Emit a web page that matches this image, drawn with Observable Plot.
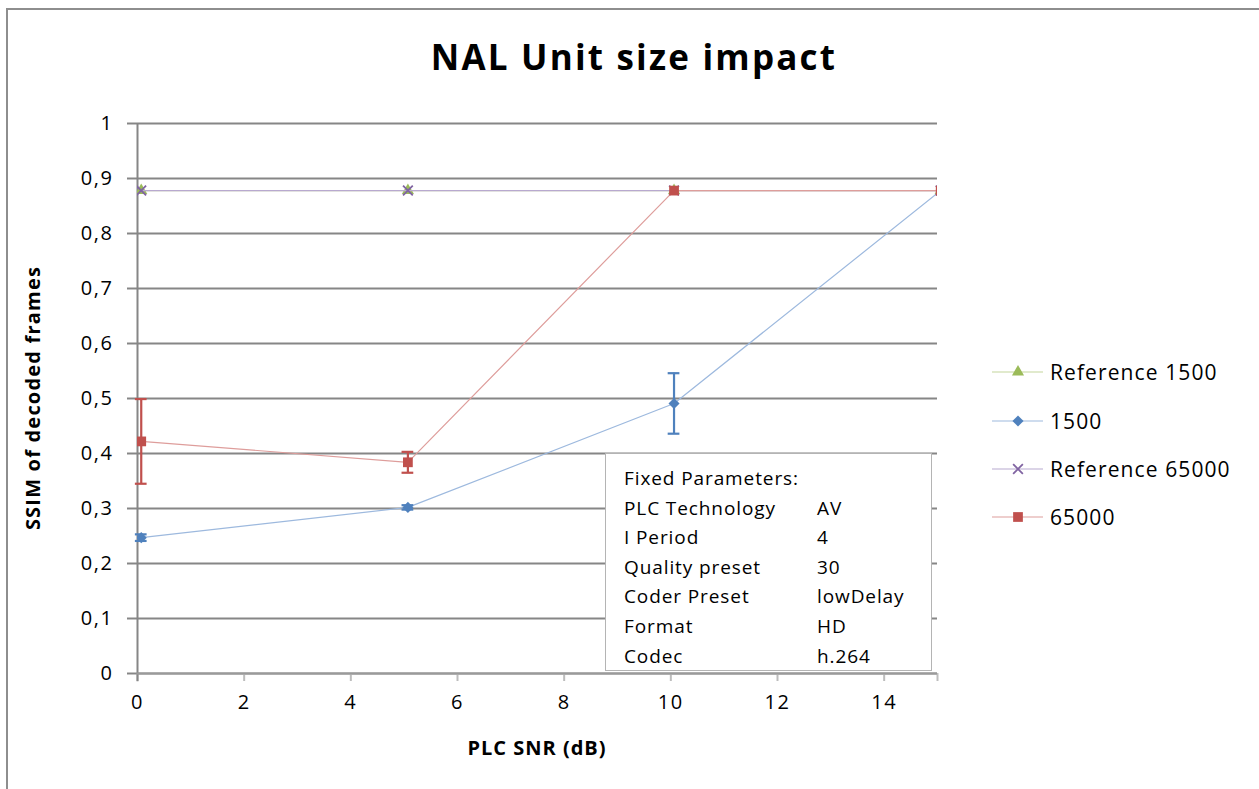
<!DOCTYPE html>
<html>
<head>
<meta charset="utf-8">
<script src="https://cdn.jsdelivr.net/npm/d3@7"></script>
<script src="https://cdn.jsdelivr.net/npm/@observablehq/plot@0.6"></script>
<style>
  html, body { margin: 0; padding: 0; background: #fff; }
  body { width: 1259px; height: 789px; overflow: hidden; font-family: "Open Sans", Lato, sans-serif; }
  #wrap { position: relative; width: 1259px; height: 789px; }
  #frame { position: absolute; left: 6px; top: 8px; width: 1400px; height: 1000px; border-left: 2px solid #8e8e8e; border-top: 2px solid #8e8e8e; }
  #title { position: absolute; left: 0; top: 33px; width: 1268px; text-align: center; font-weight: bold; font-size: 35px; letter-spacing: 2.2px; color: #000; line-height: 48px; }
  #chart { position: absolute; left: 0; top: 0; }
  .axlabel { position: absolute; font-weight: bold; font-size: 20px; color: #000; white-space: nowrap; line-height: 24px; }
  #xlabel { left: 337px; width: 400px; text-align: center; top: 736px; letter-spacing: 1px; }
  #ylabel { left: 33px; top: 398px; width: 400px; text-align: center; transform: translate(-50%, -50%) rotate(-90deg); letter-spacing: 1.2px; }
  #legend { position: absolute; left: 992px; top: 348px; }
  .item { display: flex; align-items: center; height: 48.4px; font-size: 21px; letter-spacing: 1.1px; color: #000; white-space: nowrap; }
  .item svg { margin-right: 7px; }
  #note { position: absolute; left: 605px; top: 453px; width: 325px; height: 216px; border: 1.5px solid #b4b4b4; background: #fff; font-size: 19px; letter-spacing: 0.9px; color: #000; }
  #note .row { position: absolute; left: 18px; height: 29.6px; line-height: 29.6px; white-space: nowrap; }
  #note .val { position: absolute; left: 193px; }
</style>
</head>
<body>
<div id="wrap">
  <div id="frame"></div>
  <div id="chart"></div>
  <div id="title">NAL Unit size impact</div>
  <div id="xlabel" class="axlabel">PLC SNR (dB)</div>
  <div id="ylabel" class="axlabel">SSIM of decoded frames</div>
  <div id="legend"></div>
  <div id="note"></div>
</div>
<script>
// ---- data ----
const snr = [0.07, 5.07, 10.06, 15.06];
const ref1500 = [0.878, 0.878, 0.878, 0.878];
const s1500 = [0.247, 0.302, 0.491, 0.878];
const s1500Err = [0.006, 0.004, 0.055, 0];
const ref65000 = [0.878, 0.878, 0.878, 0.878];
const s65000 = [0.422, 0.384, 0.878, 0.878];
const s65000Err = [0.077, 0.019, 0, 0];
const yTicks = [0, 0.1, 0.2, 0.3, 0.4, 0.5, 0.6, 0.7, 0.8, 0.9, 1];
const xTicks = [0, 2, 4, 6, 8, 10, 12, 14];
const seriesNames = ["Reference 1500", "1500", "Reference 65000", "65000"];
const paramLabels = ["PLC Technology", "I Period", "Quality preset", "Coder Preset", "Format", "Codec"];
const paramValues = ["AV", "4", "30", "lowDelay", "HD", "h.264"];

// ---- styles ----
const styles = {
  "Reference 1500": {color: "#9BBB59", line: "#C3D69B", symbol: "triangle", r: 4.5, filled: true},
  "1500": {color: "#4F81BD", line: "#9DB9DE", symbol: "diamond2", r: 5, filled: true},
  "Reference 65000": {color: "#8064A2", line: "#B8A9CF", symbol: "times", r: 4.5, filled: false},
  "65000": {color: "#C0504D", line: "#DE9D9B", symbol: "square", r: 5.5, filled: true}
};

const toRows = (name, ys, errs) => snr.map((x, i) => ({series: name, x, y: ys[i], err: errs ? errs[i] : 0}));
const data = {
  "Reference 1500": toRows("Reference 1500", ref1500),
  "1500": toRows("1500", s1500, s1500Err),
  "Reference 65000": toRows("Reference 65000", ref65000),
  "65000": toRows("65000", s65000, s65000Err)
};

const fmtY = d => String(d).replace(".", ",");
const capHalf = 0.11;
const tickFont = "'Open Sans', Lato, sans-serif";

const marks = [
  Plot.gridY(yTicks, {stroke: "#868686", strokeOpacity: 1, strokeWidth: 2}),
  Plot.axisY(yTicks, {tickSize: 10, tickPadding: 14, stroke: "#868686", strokeWidth: 2, tickFormat: fmtY, label: null, fontSize: 20, fontFamily: tickFont, fill: "#000"}),
  Plot.axisX([...xTicks, 15], {tickSize: 8, tickPadding: 13, stroke: "#bdbdbd", strokeWidth: 2, tickFormat: d => d === 15 ? "" : String(d), label: null, fontSize: 20, fontFamily: tickFont, fill: "#000"}),
  Plot.ruleX([0], {y1: -0.015, y2: 1, stroke: "#868686", strokeWidth: 2}),
  Plot.ruleY([0], {stroke: "#9a9a9a", strokeWidth: 2})
];

for (const name of seriesNames) {
  const st = styles[name];
  const rows = data[name];
  marks.push(Plot.line(rows, {x: "x", y: "y", stroke: st.line, strokeWidth: 1.2, clip: true}));
  const errRows = rows.filter(d => d.err > 0);
  if (errRows.length) {
    marks.push(Plot.ruleX(errRows, {x: "x", y1: d => d.y - d.err, y2: d => d.y + d.err, stroke: st.color, strokeWidth: 2.2}));
    marks.push(Plot.ruleY(errRows, {y: d => d.y + d.err, x1: d => d.x - capHalf, x2: d => d.x + capHalf, stroke: st.color, strokeWidth: 2.2}));
    marks.push(Plot.ruleY(errRows, {y: d => d.y - d.err, x1: d => d.x - capHalf, x2: d => d.x + capHalf, stroke: st.color, strokeWidth: 2.2}));
  }
  if (st.filled) {
    marks.push(Plot.dot(rows, {x: "x", y: "y", symbol: () => st.symbol, r: st.r, fill: st.color, stroke: "none", clip: true}));
  } else {
    marks.push(Plot.dot(rows, {x: "x", y: "y", symbol: () => st.symbol, r: st.r, stroke: st.color, strokeWidth: 1.8, clip: true}));
  }
}

const chart = Plot.plot({
  width: 1259,
  height: 789,
  marginLeft: 137,
  marginRight: 322,
  marginTop: 123,
  marginBottom: 116,
  x: {domain: [0, 15]},
  y: {domain: [0, 1]},
  symbol: {type: "identity"},
  style: {fontFamily: tickFont, fontSize: "20px", color: "#000", background: "transparent", overflow: "visible"},
  marks
});
d3.select(chart).selectAll("text").style("font-size", "20px").style("letter-spacing", "1.6px").style("font-family", tickFont);
document.getElementById("chart").appendChild(chart);

// ---- legend ----
const legend = d3.select("#legend");
for (const name of seriesNames) {
  const st = styles[name];
  const item = legend.append("div").attr("class", "item");
  const s = item.append("svg").attr("width", 51).attr("height", 20);
  s.append("line").attr("x1", 0).attr("x2", 51).attr("y1", 10).attr("y2", 10).attr("stroke", st.line).attr("stroke-width", 1.2);
  const sym = {triangle: d3.symbolTriangle, diamond2: d3.symbolDiamond2, times: d3.symbolTimes, square: d3.symbolSquare}[st.symbol];
  const area = Math.PI * st.r * st.r;
  const p = s.append("path").attr("transform", "translate(26,10)").attr("d", d3.symbol(sym, area)());
  if (st.filled) p.attr("fill", st.color); else p.attr("fill", "none").attr("stroke", st.color).attr("stroke-width", 1.8);
  item.append("span").text(name);
}

// ---- fixed-parameter box ----
const note = d3.select("#note");
note.append("div").attr("class", "row").style("top", "10px").text("Fixed Parameters:");
paramLabels.forEach((lab, i) => {
  const r = note.append("div").attr("class", "row").style("top", (10 + 29.6 * (i + 1)) + "px").style("width", "300px");
  r.append("span").text(lab);
  r.append("span").attr("class", "val").text(paramValues[i]);
});
</script>
</body>
</html>
